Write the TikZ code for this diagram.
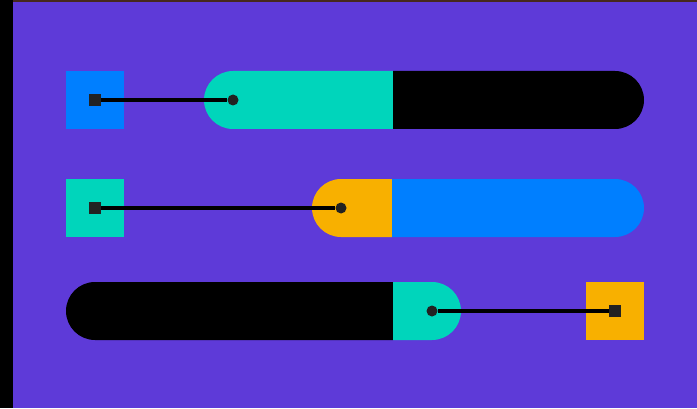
\documentclass[tikz,border=0pt]{standalone}
\usepackage{xcolor}
\usepackage{tikz}
\usetikzlibrary{positioning,shapes}

\definecolor{bgpurple}{RGB}{94,58,216}
\definecolor{knobblue}{RGB}{0,127,255}
\definecolor{knobteal}{RGB}{0,213,187}
\definecolor{knoborange}{RGB}{248,176,0}
\definecolor{markgray}{RGB}{34,34,34}
\definecolor{stripbrown}{RGB}{70,40,30}

\tikzset{
    swatch/.style={rectangle, minimum size=58pt, inner sep=0pt},
    handle/.style={rectangle, fill=markgray, minimum size=12pt, inner sep=0pt},
    knob/.style={circle, fill=markgray, minimum size=11pt, inner sep=0pt},
    wire/.style={draw=black, line width=3.2pt}
}

% left half of a bar: cap centre, end, height centre
\newcommand{\leftbar}[4]{\fill[#1] (#3,#4-29) -- (#2,#4-29) arc[start angle=-90, end angle=-270, radius=29pt] -- (#3,#4+29) -- cycle;}
% right half of a bar
\newcommand{\rightbar}[4]{\fill[#1] (#2,#4-29) -- (#3,#4-29) arc[start angle=-90, end angle=90, radius=29pt] -- (#2,#4+29) -- cycle;}

\begin{document}
\begin{tikzpicture}[x=1pt, y=1pt]
    \useasboundingbox (0,0) rectangle (697,408);
    \fill[bgpurple] (0,0) rectangle (697,408);
    \fill[black] (0,0) rectangle (13,408);
    \fill[stripbrown] (13,406) rectangle (697,408);

    % bars
    \leftbar{knobteal}{233}{393}{308}
    \rightbar{black}{393}{615}{308}
    \leftbar{knoborange}{341}{392}{200}
    \rightbar{knobblue}{392}{615}{200}
    \leftbar{black}{95}{393}{97}
    \rightbar{knobteal}{393}{432}{97}

    % swatches
    \node[swatch, fill=knobblue] (s1) at (95,308) {};
    \node[swatch, fill=knobteal] (s2) at (95,200) {};
    \node[swatch, fill=knoborange] (s3) at (615,97) {};

    \node[handle] (h1) at (s1.center) {};
    \node[handle] (h2) at (s2.center) {};
    \node[handle] (h3) at (s3.center) {};

    \node[knob] (k1) at (233,308) {};
    \node[knob] (k2) at (341,200) {};
    \node[knob] (k3) at (432,97) {};

    \draw[wire] (h1) -- (k1);
    \draw[wire] (h2) -- (k2);
    \draw[wire] (k3) -- (h3);
\end{tikzpicture}
\end{document}
